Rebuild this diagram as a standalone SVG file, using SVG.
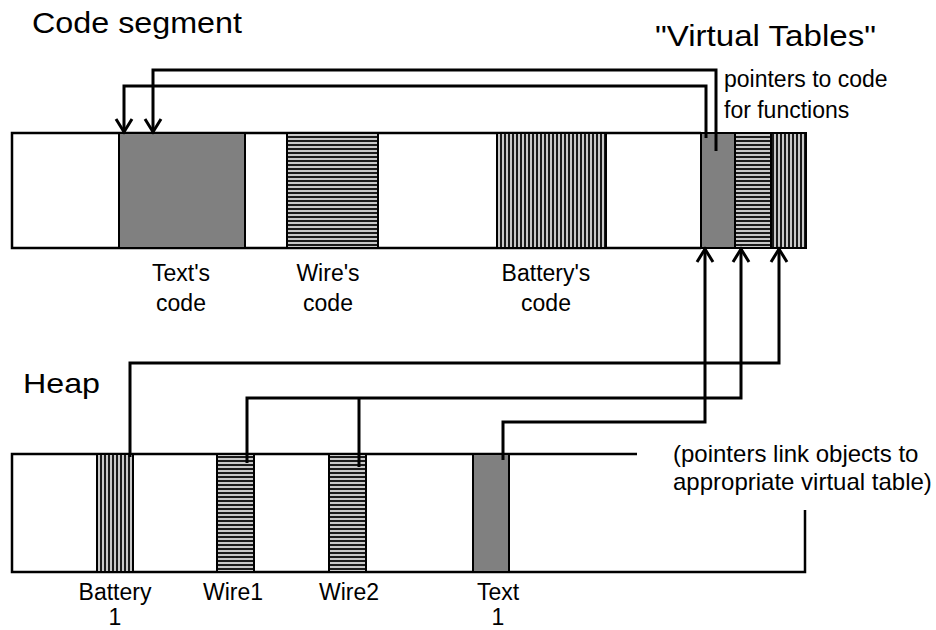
<svg xmlns="http://www.w3.org/2000/svg" width="936" height="630" viewBox="0 0 936 630">
<style>
text{font-family:"Liberation Sans",Arial,Helvetica,sans-serif;fill:#000}
.title{font-size:30px}
.lbl{font-size:23px}
.note{font-size:24px}
.mid{text-anchor:middle}
.outline{fill:none;stroke:#000;stroke-width:2.5}
.gray{fill:#808080;stroke:#000;stroke-width:2}
.hs{fill:url(#hstripe);stroke:#000;stroke-width:2}
.vs{fill:url(#vstripe);stroke:#000;stroke-width:2}
.conn{fill:none;stroke:#000;stroke-width:3}
.arr{marker-end:url(#arrow)}
</style>
<defs>
<pattern id="hstripe" width="4" height="4" patternUnits="userSpaceOnUse">
<rect width="4" height="4" fill="#c8c8c8"/>
<rect width="4" height="2" fill="#1a1a1a"/>
</pattern>
<pattern id="vstripe" width="4" height="4" patternUnits="userSpaceOnUse">
<rect width="4" height="4" fill="#c8c8c8"/>
<rect width="2" height="4" fill="#1a1a1a"/>
</pattern>
<marker id="arrow" viewBox="-16 -11 19 22" refX="0" refY="0" markerWidth="19" markerHeight="22" orient="auto" markerUnits="userSpaceOnUse">
<path d="M-13,-8 L0,0 L-13,8" fill="none" stroke="#000" stroke-width="3"/>
</marker>
</defs>

<rect width="936" height="630" fill="#fff"/>

<g id="titles">
<text class="title" x="32" y="33" textLength="210" lengthAdjust="spacingAndGlyphs">Code segment</text>
<text class="title" x="655" y="46" textLength="221" lengthAdjust="spacingAndGlyphs">"Virtual Tables"</text>
<text class="title" x="23" y="393" style="font-size:28px" textLength="77" lengthAdjust="spacingAndGlyphs">Heap</text>
</g>

<g id="code-segment">
<path class="outline" d="M701,133 H12 V248 H701"/>
</g>
<g id="text-code">
<rect class="gray" x="119" y="133" width="126" height="115"/>
<text class="lbl mid" x="181" y="281">Text's</text>
<text class="lbl mid" x="181" y="311">code</text>
</g>
<g id="wire-code">
<rect class="hs" x="287" y="133" width="91" height="115"/>
<text class="lbl mid" x="328" y="281">Wire's</text>
<text class="lbl mid" x="328" y="311">code</text>
</g>
<g id="battery-code">
<rect class="vs" x="497" y="133" width="109" height="115"/>
<text class="lbl mid" x="546" y="281">Battery's</text>
<text class="lbl mid" x="546" y="311">code</text>
</g>

<g id="vtable-text">
<rect class="gray" x="701" y="133" width="34" height="115"/>
</g>
<g id="vtable-wire">
<rect class="hs" x="735" y="133" width="36" height="115"/>
</g>
<g id="vtable-battery">
<rect class="vs" x="771" y="133" width="35" height="115"/>
</g>
<g id="vtable-note">
<text class="lbl" x="724" y="87">pointers to code</text>
<text class="lbl" x="724" y="118">for functions</text>
</g>

<g id="heap">
<path class="outline" d="M637,454 H12 V572 H805 V510"/>
<text class="note" x="673" y="462">(pointers link objects to</text>
<text class="note" x="673" y="490">appropriate virtual table)</text>
</g>
<g id="battery1">
<rect class="vs" x="97" y="454" width="36" height="118"/>
<text class="lbl mid" x="115" y="600">Battery</text>
<text class="lbl mid" x="115" y="625">1</text>
</g>
<g id="wire1">
<rect class="hs" x="217" y="454" width="37" height="118"/>
<text class="lbl mid" x="233" y="600">Wire1</text>
</g>
<g id="wire2">
<rect class="hs" x="329" y="454" width="37" height="118"/>
<text class="lbl mid" x="349" y="600">Wire2</text>
</g>
<g id="text1">
<rect class="gray" x="473" y="454" width="36" height="118"/>
<text class="lbl mid" x="498" y="600">Text</text>
<text class="lbl mid" x="498" y="625">1</text>
</g>

<g id="connectors">
<path class="conn arr" d="M716,151 V70 H153 V132"/>
<path class="conn arr" d="M706,138 V86 H124 V132"/>
<path class="conn arr" d="M503,460 V422 H705 V249"/>
<path class="conn arr" d="M247,463 V398 H741 V249"/>
<path class="conn" d="M359,467 V398"/>
<path class="conn arr" d="M130,457 V363 H779 V249"/>
</g>
</svg>
